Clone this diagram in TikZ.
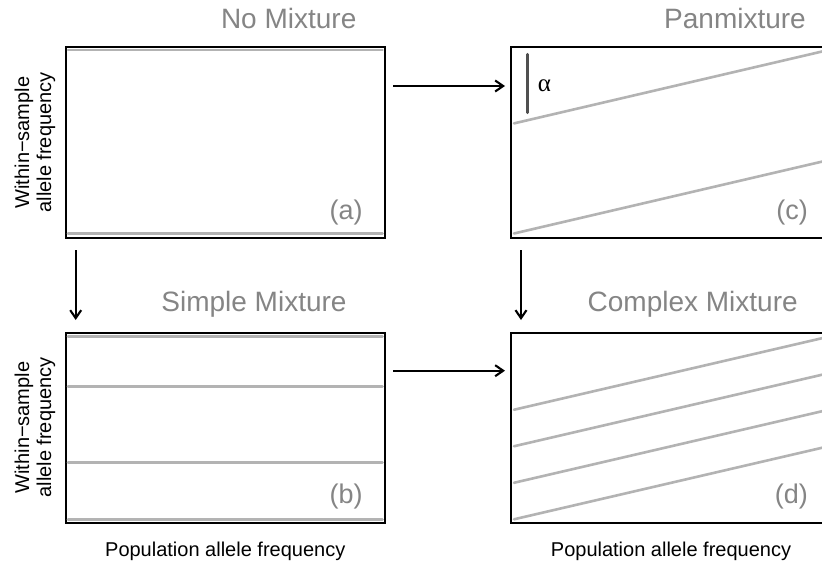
\documentclass[tikz,border=0pt]{standalone}
\usepackage{fontspec}
\setmainfont{Liberation Sans}
\newfontfamily\greekfont{Liberation Serif}
\usetikzlibrary{arrows.meta}
\definecolor{titlegray}{HTML}{858585}
\definecolor{linegray}{HTML}{B3B3B3}
\definecolor{bargray}{HTML}{505050}
\begin{document}
\begin{tikzpicture}[x=1pt,y=-1pt,
  panel/.style={draw=black, line width=2pt, minimum width=319.5pt, minimum height=190pt, inner sep=0pt},
  gl/.style={draw=linegray, line width=2.6pt, line cap=round},
  ttl/.style={text=titlegray, font=\fontsize{28}{30}\selectfont, anchor=base, inner sep=0pt},
  tag/.style={text=titlegray, font=\fontsize{27}{29}\selectfont, anchor=base east, inner sep=0pt},
  ylab/.style={font=\fontsize{20}{22}\selectfont, rotate=90, anchor=base, inner sep=0pt},
  xlab/.style={font=\fontsize{20}{22}\selectfont, anchor=base, inner sep=0pt},
  arr/.style={draw=black, line width=2.1pt, -{Straight Barb[length=8pt,width=11pt,line width=2.1pt]}}]
\useasboundingbox (0,0) rectangle (822,567);
\clip (0,0) rectangle (822,567);
\fill[white] (0,0) rectangle (822,567);

% panels
\node[panel] (pa) at (225.25,142.5) {};
\node[panel] (pc) at (671,142.5) {};
\node[panel] (pb) at (225.25,427.5) {};
\node[panel] (pd) at (671,427.5) {};

% (a) no mixture
\begin{scope}[shift={(68,233.5)}, x=314.5pt, y=183.5pt]
  \draw[gl] (0,0) -- (1,0);
  \draw[gl] (0,1) -- (1,1);
\end{scope}
% (b) simple mixture
\begin{scope}[shift={(68,519.3)}, x=314.5pt, y=182.6pt]
  \draw[gl] (0,0) -- (1,0);
  \draw[gl] (0,0.311) -- (1,0.311);
  \draw[gl] (0,0.726) -- (1,0.726);
  \draw[gl] (0,1) -- (1,1);
\end{scope}
% (c) panmixture
\begin{scope}[shift={(514,233.5)}, x=314.5pt, y=183.5pt]
  \draw[gl] (0,0) -- (1,0.4);
  \draw[gl] (0,0.6) -- (1,1);
\end{scope}
% (d) complex mixture
\begin{scope}[shift={(514,519.3)}, x=314.5pt, y=182.6pt]
  \draw[gl] (0,0) -- (1,0.4);
  \draw[gl] (0,0.2) -- (1,0.6);
  \draw[gl] (0,0.4) -- (1,0.8);
  \draw[gl] (0,0.6) -- (1,1);
\end{scope}

% alpha marker
\coordinate (bartop) at (527.7,54.5);
\coordinate (barbot) at (527.7,112.5);
\draw[draw=bargray, line width=3.4pt, line cap=round] (bartop) -- (barbot);
\node[inner sep=0pt, font=\greekfont\fontsize{25}{27}\selectfont] (alpha) at (544.5,85.5) {α};

% titles
\node[ttl] (ta) at (288.7,28.3) {No Mixture};
\node[ttl] (tc) at (735,28.3) {Panmixture};
\node[ttl] (tb) at (254,311.7) {Simple Mixture};
\node[ttl] (td) at (692.7,311.7) {Complex Mixture};

% tags
\node[tag] (la) at (362.8,219) {(a)};
\node[tag] (lb) at (362.8,503.5) {(b)};
\node[tag] (lc) at (808,219) {(c)};
\node[tag] (ld) at (808,503.5) {(d)};

% axis labels
\node[ylab] (ya1) at (29,142.5) {Within{\char"2212}sample};
\node[ylab] (ya2) at (51,142.5) {allele frequency};
\node[ylab] (yb1) at (29,427.5) {Within{\char"2212}sample};
\node[ylab] (yb2) at (51,427.5) {allele frequency};
\node[xlab] (xb) at (225.25,556) {Population allele frequency};
\node[xlab] (xd) at (671,556) {Population allele frequency};

% arrows
\coordinate (h1s) at (393,86);
\coordinate (h1e) at (505,86);
\coordinate (h2s) at (393,370.7);
\coordinate (h2e) at (505,370.7);
\coordinate (v1s) at (75.7,250);
\coordinate (v1e) at (75.7,320);
\coordinate (v2s) at (521,250);
\coordinate (v2e) at (521,320);
\draw[arr] (h1s) -- (h1e);
\draw[arr] (h2s) -- (h2e);
\draw[arr] (v1s) -- (v1e);
\draw[arr] (v2s) -- (v2e);
\end{tikzpicture}
\end{document}
